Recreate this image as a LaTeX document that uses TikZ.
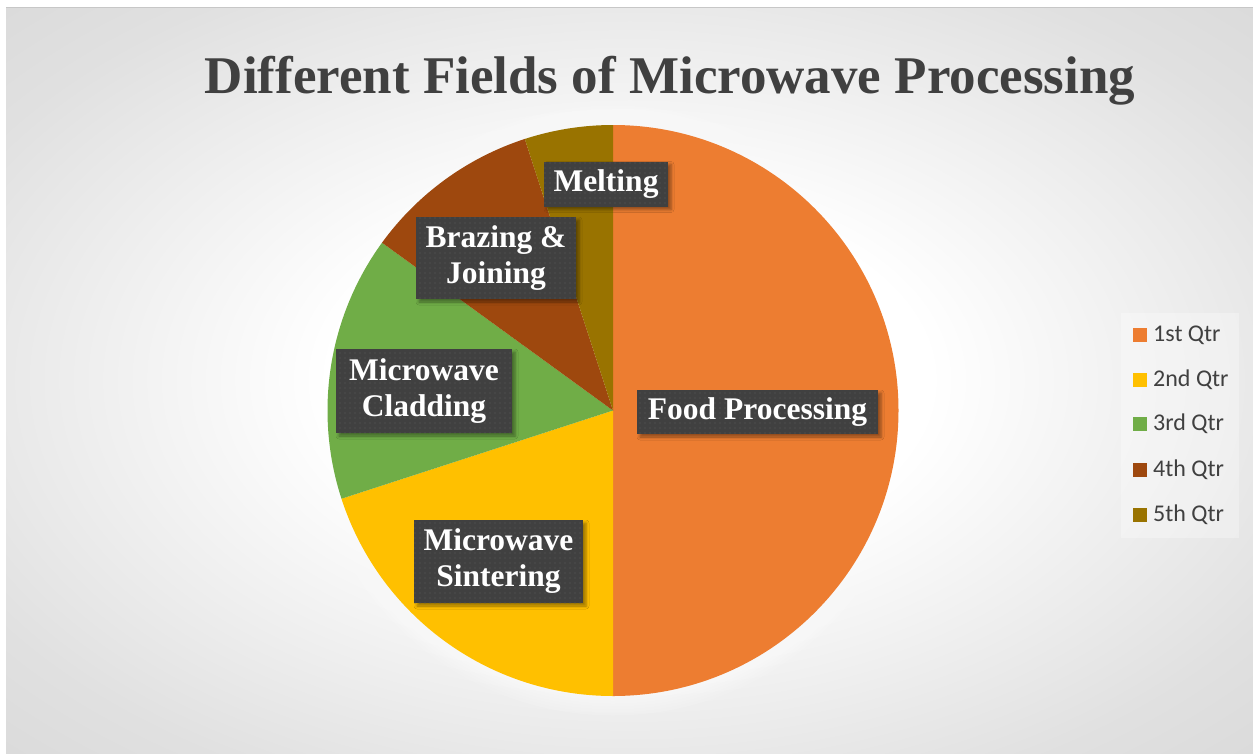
\documentclass[tikz,border=0pt]{standalone}
\usepackage{fontspec}
\setmainfont{Liberation Serif}
\newfontfamily\legendfont{Carlito}
\usetikzlibrary{patterns.meta,shadows.blur}
\definecolor{cfood}{HTML}{ED7D31}
\definecolor{csint}{HTML}{FFC000}
\definecolor{cclad}{HTML}{70AD47}
\definecolor{cbraz}{HTML}{9E480E}
\definecolor{cmelt}{HTML}{997300}
\definecolor{lblbg}{HTML}{404040}
\definecolor{lbldot}{HTML}{5E5E5E}
\definecolor{txtgrey}{HTML}{404040}
\pgfdeclareradialshading{bgshade}{\pgfpoint{0bp}{0bp}}{%
  color(0bp)=(white); color(12bp)=(white); color(30bp)=(black!12);
  color(50bp)=(black!20); color(71bp)=(black!25); color(100bp)=(black!25)}
\tikzset{
  lbl/.style={
    blur shadow={shadow xshift=3pt, shadow yshift=-3pt, shadow blur radius=3pt, shadow opacity=40},
    preaction={fill=lblbg},
    pattern={Dots[distance=5pt, radius=0.7pt]}, pattern color=lbldot,
    text=white, inner sep=0pt, align=center,
    font=\fontsize{31.5}{36}\selectfont\bfseries},
  legsq/.style={fill=#1, minimum size=14pt, inner sep=0pt},
  legtxt/.style={anchor=west, inner sep=0pt, text=txtgrey,
    font=\legendfont\fontsize{24}{28}\selectfont}
}
\begin{document}
\begin{tikzpicture}[x=1pt,y=-1pt]
\useasboundingbox (0,0) rectangle (1253,753);
\fill[white] (0,0) rectangle (1253,753);
\shade[shading=bgshade] (6,7) rectangle (1253,753);
\draw[black!22, line width=1pt] (6,7.5) -- (1253,7.5);
\begin{scope}[shift={(613,410.5)}]
\foreach \r in {287,290,...,305} {\fill[white, opacity=0.12] (0,0) circle[radius=\r];}
\fill[cfood] (0,0) -- (-90:285.5) arc[start angle=-90, end angle=90, radius=285.5] -- cycle;
\fill[csint] (0,0) -- (90:285.5) arc[start angle=90, end angle=162, radius=285.5] -- cycle;
\fill[cclad] (0,0) -- (162:285.5) arc[start angle=162, end angle=216, radius=285.5] -- cycle;
\fill[cbraz] (0,0) -- (216:285.5) arc[start angle=216, end angle=252, radius=285.5] -- cycle;
\fill[cmelt] (0,0) -- (252:285.5) arc[start angle=252, end angle=270, radius=285.5] -- cycle;
\end{scope}
\node[anchor=base, inner sep=0pt, text=txtgrey, font=\fontsize{53}{60}\selectfont\bfseries] (title) at (670,93) {Different Fields of Microwave Processing};
\node[lbl, minimum width=124pt, minimum height=45pt] (melt) at (606,184) {Melting};
\node[lbl, minimum width=160pt, minimum height=82pt] (braz) at (496,258) {Brazing \&\\Joining};
\node[lbl, minimum width=176pt, minimum height=84pt] (clad) at (424,391) {Microwave\\Cladding};
\node[lbl, minimum width=241pt, minimum height=44pt] (food) at (757.5,412) {Food Processing};
\node[lbl, minimum width=169pt, minimum height=83pt] (sint) at (498.5,561.5) {Microwave\\Sintering};
\node[fill=white, fill opacity=0.3, minimum width=118pt, minimum height=225pt, inner sep=0pt] (legend) at (1180,425.5) {};
\node[legsq=cfood] (s1) at (1140,335) {};
\node[legsq=csint] (s2) at (1140,380) {};
\node[legsq=cclad] (s3) at (1140,424) {};
\node[legsq=cbraz] (s4) at (1140,470) {};
\node[legsq=cmelt] (s5) at (1140,515) {};
\node[legtxt] (t1) at (1153,335) {1st Qtr};
\node[legtxt] (t2) at (1153,380) {2nd Qtr};
\node[legtxt] (t3) at (1153,424) {3rd Qtr};
\node[legtxt] (t4) at (1153,470) {4th Qtr};
\node[legtxt] (t5) at (1153,515) {5th Qtr};
\end{tikzpicture}
\end{document}
